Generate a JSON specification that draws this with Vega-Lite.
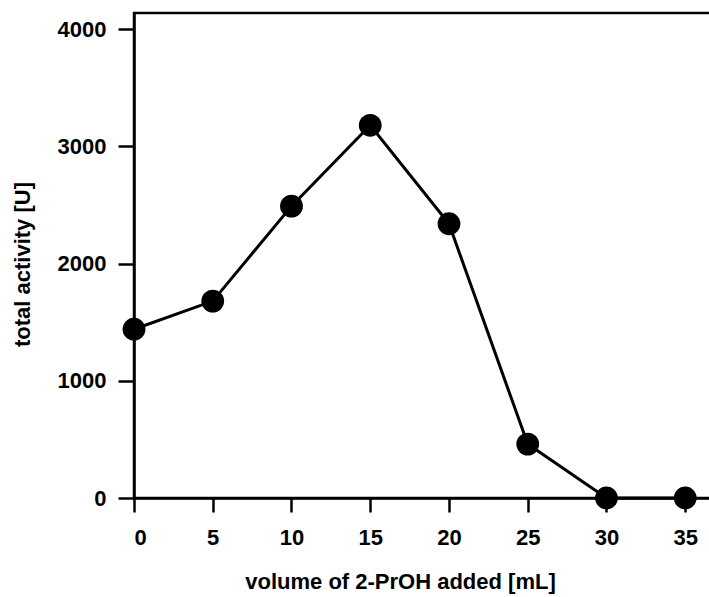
{
  "$schema": "https://vega.github.io/schema/vega-lite/v6.json",
  "autosize": "none",
  "width": 578,
  "height": 485,
  "padding": {"left": 134, "top": 13, "right": 0, "bottom": 99},
  "background": "white",
  "config": {
    "view": {"stroke": "black", "strokeWidth": 2.5},
    "font": "Liberation Sans",
    "axis": {
      "domainColor": "black", "domainWidth": 2.5,
      "tickColor": "black", "tickWidth": 2.5,
      "labelFont": "Liberation Sans", "labelFontWeight": "bold", "labelFontSize": 22, "labelColor": "black",
      "titleFont": "Liberation Sans", "titleFontWeight": "bold", "titleFontSize": 22, "titleColor": "black",
      "grid": false
    }
  },
  "data": {"values": [
    {"volume": 0, "activity": 1440},
    {"volume": 5, "activity": 1680},
    {"volume": 10, "activity": 2490},
    {"volume": 15, "activity": 3180},
    {"volume": 20, "activity": 2340},
    {"volume": 25, "activity": 460},
    {"volume": 30, "activity": 0},
    {"volume": 35, "activity": 0}
  ]},
  "encoding": {
    "x": {"field": "volume", "type": "quantitative",
      "scale": {"domain": [0, 36.7], "nice": false, "zero": false},
      "axis": {"values": [0, 5, 10, 15, 20, 25, 30, 35], "format": "d", "tickSize": 14, "labelPadding": 15, "title": "volume of 2-PrOH added [mL]", "titlePadding": 23, "titleX": 266}},
    "y": {"field": "activity", "type": "quantitative",
      "scale": {"domain": [0, 4138], "nice": false},
      "axis": {"values": [0, 1000, 2000, 3000, 4000], "format": "d", "tickSize": 16, "labelPadding": 12, "title": "total activity [U]", "titlePadding": 23, "titleY": 251}}
  },
  "layer": [
    {"mark": {"type": "line", "color": "black", "strokeWidth": 3, "clip": false}},
    {"mark": {"type": "point", "filled": true, "color": "black", "opacity": 1, "size": 520, "clip": false}}
  ]
}
